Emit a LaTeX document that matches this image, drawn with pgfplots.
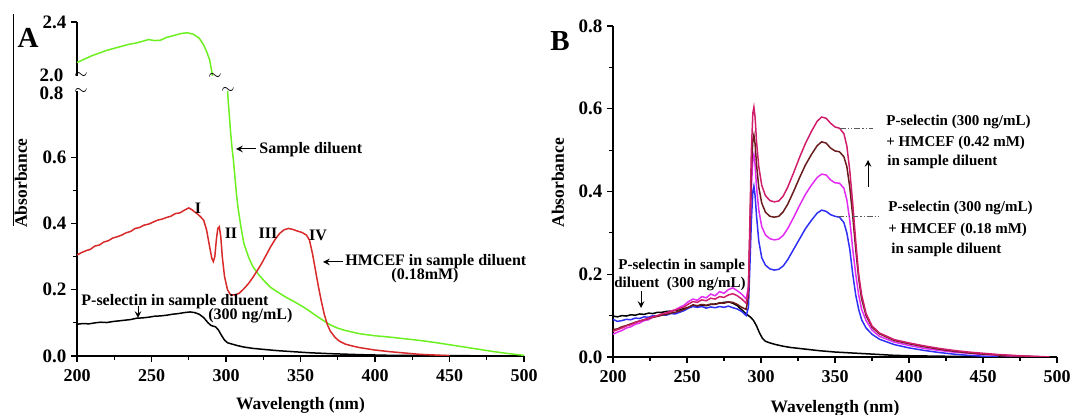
\documentclass[border=0pt]{standalone}
\usepackage{fontspec}
\setmainfont{Liberation Serif}
\usepackage{pgfplots}
\pgfplotsset{compat=1.18}
\definecolor{SpGreen}{HTML}{6CF022}
\definecolor{SpRed}{HTML}{D82A2A}
\definecolor{SpBlue}{HTML}{2F2FF5}
\definecolor{SpMag}{HTML}{E22CF2}
\definecolor{SpBrown}{HTML}{6A1C1C}
\definecolor{SpCrim}{HTML}{D11E6C}
\pgfplotsset{
  spec/.style={
    scale only axis,
    axis x line*=bottom, axis y line*=left,
    axis line style={-, line width=0.7pt},
    tick align=outside,
    major tick length=3pt, minor tick length=1.8pt,
    tick style={black, line width=0.6pt},
    xmin=200, xmax=500,
    xtick={200,250,...,500}, minor x tick num=1,
    xticklabel style={font=\fontsize{9}{10}\selectfont\bfseries},
    yticklabel style={font=\fontsize{9.5}{10}\selectfont\bfseries, inner sep=0.6pt, xshift=-1.5pt,
      /pgf/number format/fixed, /pgf/number format/fixed zerofill, /pgf/number format/precision=1},
    /pgf/number format/assume math mode=true,
    label style={font=\fontsize{8.75}{10}\selectfont\bfseries},
    every axis plot/.append style={line width=0.75pt, no marks},
  },
}
\tikzset{
  lbl/.style={font=\fontsize{8}{9.5}\selectfont\bfseries, inner sep=0pt},
  lblb/.style={font=\fontsize{7.5}{9}\selectfont\bfseries, inner sep=0pt},
}
\begin{document}
\begin{tikzpicture}
\useasboundingbox (0,0) rectangle (535.5pt,207.5pt);

% ---- panel A, upper part of the broken axis
\begin{axis}[spec,
  at={(38.5pt,169.5pt)}, anchor=south west,
  width=223.5pt, height=27pt,
  axis x line=none,
  ymin=2.0, ymax=2.4,
  ytick={2.4}, extra y ticks={2.0},
  extra y tick style={major tick length=0pt, yticklabel style={xshift=-4.5pt, yshift=0.5pt}},
  minor y tick num=3,
]
\addplot[SpGreen] coordinates {(200,2.10)(205,2.125)(210,2.15)(215,2.17)(220,2.19)(225,2.205)(230,2.22)(235,2.235)(240,2.245)(245,2.26)(248,2.27)(252,2.262)(256,2.265)(260,2.285)(265,2.30)(270,2.315)(274,2.32)(278,2.31)(282,2.28)(285,2.23)(287,2.18)(289,2.12)(291,2.0)};
\end{axis}

% ---- panel A, lower part
\begin{axis}[spec,
  at={(38.5pt,29.5pt)}, anchor=south west,
  width=223.5pt, height=132.5pt,
  ymin=0, ymax=0.8,
  ytick={0,0.2,0.4,0.6}, extra y ticks={0.8},
  extra y tick style={major tick length=0pt, yticklabel style={xshift=-4.5pt, yshift=-1pt}},
  minor y tick num=1,
  xlabel={Wavelength (nm)},
  xlabel style={at={(axis description cs:0.5,0)}, anchor=center, yshift=-24.5pt},
  ylabel={Absorbance},
  ylabel style={at={(axis description cs:0,0.653)}, anchor=center, yshift=28pt},
]
\addplot[black] coordinates {(200,0.096)(204,0.098)(208,0.097)(212,0.1)(216,0.102)(220,0.101)(224,0.104)(228,0.106)(232,0.108)(236,0.11)(240,0.114)(244,0.115)(248,0.117)(252,0.12)(256,0.121)(260,0.123)(264,0.126)(268,0.128)(272,0.131)(276,0.133)(279,0.131)(282,0.126)(285,0.116)(288,0.1)(290,0.092)(293,0.088)(295,0.078)(297,0.062)(299,0.048)(301,0.04)(304,0.036)(308,0.031)(312,0.027)(318,0.023)(325,0.02)(335,0.016)(345,0.013)(355,0.01)(370,0.007)(390,0.004)(410,0.002)(450,0.001)(500,0)};
\addplot[SpGreen] coordinates {(301,0.80)(302,0.74)(303,0.68)(304,0.63)(305,0.59)(306,0.54)(307,0.49)(308,0.45)(310,0.39)(312,0.34)(315,0.30)(318,0.27)(322,0.245)(326,0.225)(330,0.207)(335,0.192)(340,0.178)(345,0.166)(350,0.153)(355,0.139)(360,0.123)(365,0.108)(370,0.094)(375,0.084)(380,0.077)(390,0.067)(400,0.061)(410,0.057)(420,0.052)(430,0.047)(440,0.041)(450,0.034)(460,0.027)(470,0.02)(480,0.013)(490,0.007)(500,0.002)};
\addplot[SpRed] coordinates {(200,0.305)(203,0.312)(206,0.318)(209,0.322)(212,0.332)(215,0.335)(218,0.344)(221,0.348)(224,0.356)(227,0.36)(230,0.365)(233,0.372)(236,0.376)(239,0.385)(242,0.388)(245,0.395)(248,0.398)(251,0.404)(254,0.41)(257,0.413)(260,0.418)(263,0.422)(266,0.43)(269,0.432)(272,0.44)(275,0.447)(277,0.442)(279,0.435)(281,0.428)(283,0.42)(285,0.41)(287,0.38)(289,0.33)(290.5,0.295)(291.5,0.285)(292.5,0.30)(293.5,0.35)(294.5,0.385)(295.5,0.39)(296.5,0.36)(297.5,0.30)(299,0.24)(301,0.20)(303,0.185)(306,0.184)(309,0.19)(312,0.203)(315,0.218)(318,0.237)(321,0.258)(324,0.28)(327,0.305)(330,0.33)(333,0.352)(336,0.37)(339,0.381)(342,0.385)(345,0.382)(348,0.377)(351,0.373)(354,0.365)(356,0.35)(358,0.31)(360,0.26)(362,0.21)(364,0.165)(366,0.125)(368,0.095)(370,0.075)(373,0.057)(376,0.045)(380,0.036)(385,0.03)(390,0.025)(400,0.018)(410,0.013)(420,0.009)(430,0.005)(440,0.003)(450,0.001)};
\end{axis}

% ---- panel B
\begin{axis}[spec,
  at={(306.5pt,29pt)}, anchor=south west,
  width=222pt, height=165.5pt,
  ymin=0, ymax=0.8,
  ytick={0,0.2,...,0.8}, minor y tick num=1,
  xlabel={Wavelength (nm)},
  xlabel style={at={(axis description cs:0.5,0)}, anchor=center, yshift=-25.5pt},
  ylabel={Absorbance},
  ylabel style={at={(axis description cs:0,0.526)}, anchor=center, yshift=27.5pt},
]
\addplot[black] coordinates {(200,0.099)(203,0.097)(206,0.1)(209,0.099)(212,0.102)(215,0.101)(218,0.104)(221,0.103)(224,0.106)(227,0.105)(230,0.108)(233,0.108)(236,0.11)(239,0.111)(242,0.113)(245,0.114)(248,0.117)(251,0.12)(254,0.124)(257,0.123)(260,0.125)(263,0.124)(266,0.127)(269,0.128)(272,0.13)(275,0.132)(278,0.133)(281,0.13)(284,0.124)(287,0.114)(290,0.104)(293,0.096)(295,0.088)(297,0.075)(299,0.058)(301,0.045)(303,0.038)(306,0.034)(310,0.03)(315,0.026)(320,0.023)(330,0.019)(340,0.015)(350,0.012)(360,0.01)(370,0.008)(380,0.006)(390,0.004)(400,0.003)(420,0.002)(440,0.001)(460,0)};
\addplot[SpBlue] coordinates {(200,0.091)(203,0.086)(206,0.088)(209,0.091)(212,0.09)(215,0.094)(218,0.093)(221,0.097)(224,0.096)(227,0.1)(230,0.099)(233,0.102)(236,0.101)(239,0.105)(242,0.104)(245,0.108)(248,0.112)(251,0.118)(254,0.122)(257,0.12)(260,0.122)(263,0.118)(266,0.121)(269,0.119)(272,0.122)(275,0.12)(278,0.123)(281,0.119)(284,0.116)(287,0.11)(290,0.1)(291.5,0.12)(292.5,0.22)(293.5,0.33)(294.5,0.40)(295.2,0.413)(296,0.39)(297,0.34)(298.5,0.28)(300.5,0.24)(303,0.222)(306,0.213)(309,0.21)(312,0.212)(315,0.22)(318,0.235)(322,0.26)(326,0.285)(330,0.31)(334,0.33)(338,0.348)(341,0.355)(344,0.352)(347,0.344)(350,0.34)(353,0.338)(356,0.325)(358,0.3)(360,0.26)(362,0.2)(364,0.15)(366,0.115)(368,0.09)(371,0.07)(375,0.055)(380,0.043)(390,0.03)(400,0.022)(410,0.016)(420,0.011)(430,0.007)(440,0.004)(450,0.002)(460,0)};
\addplot[SpMag] coordinates {(200,0.055)(203,0.06)(206,0.064)(209,0.07)(212,0.073)(215,0.079)(218,0.082)(221,0.088)(224,0.09)(227,0.097)(230,0.099)(233,0.104)(236,0.106)(239,0.111)(242,0.114)(245,0.12)(248,0.125)(251,0.134)(254,0.14)(257,0.137)(260,0.146)(263,0.143)(266,0.152)(269,0.148)(272,0.158)(275,0.154)(278,0.163)(281,0.167)(284,0.16)(287,0.152)(290,0.14)(291.5,0.17)(292.5,0.29)(293.5,0.41)(294.5,0.48)(295.2,0.49)(296,0.465)(297,0.41)(298.5,0.355)(300.5,0.315)(303,0.295)(306,0.286)(309,0.283)(312,0.285)(315,0.294)(318,0.31)(322,0.337)(326,0.366)(330,0.393)(334,0.415)(338,0.434)(341,0.442)(344,0.44)(347,0.428)(350,0.421)(353,0.42)(356,0.408)(358,0.38)(360,0.33)(362,0.26)(364,0.2)(366,0.15)(368,0.115)(371,0.088)(375,0.065)(380,0.05)(390,0.036)(400,0.028)(410,0.021)(420,0.016)(430,0.012)(440,0.009)(450,0.006)(460,0.004)(470,0.002)(480,0.001)(490,0)};
\addplot[SpBrown] coordinates {(200,0.066)(203,0.068)(206,0.073)(209,0.076)(212,0.08)(215,0.084)(218,0.087)(221,0.09)(224,0.093)(227,0.096)(230,0.098)(233,0.101)(236,0.103)(239,0.106)(242,0.108)(245,0.111)(248,0.115)(251,0.12)(254,0.126)(257,0.124)(260,0.127)(263,0.125)(266,0.128)(269,0.127)(272,0.131)(275,0.13)(278,0.133)(281,0.132)(284,0.127)(287,0.12)(290,0.115)(291.5,0.15)(292.5,0.30)(293.5,0.45)(294.5,0.525)(295.2,0.537)(296,0.515)(297,0.465)(298.5,0.41)(300.5,0.372)(303,0.35)(306,0.34)(309,0.338)(312,0.34)(315,0.351)(318,0.369)(322,0.4)(326,0.433)(330,0.464)(334,0.489)(338,0.511)(341,0.52)(344,0.517)(347,0.505)(350,0.498)(353,0.496)(356,0.484)(358,0.46)(360,0.41)(362,0.34)(364,0.26)(366,0.19)(368,0.14)(371,0.1)(375,0.072)(380,0.056)(390,0.04)(400,0.032)(410,0.025)(420,0.019)(430,0.014)(440,0.01)(450,0.007)(460,0.005)(470,0.003)(480,0.002)(490,0)};
\addplot[SpCrim] coordinates {(200,0.062)(203,0.066)(206,0.07)(209,0.075)(212,0.078)(215,0.083)(218,0.087)(221,0.09)(224,0.094)(227,0.097)(230,0.1)(233,0.104)(236,0.106)(239,0.11)(242,0.113)(245,0.117)(248,0.121)(251,0.128)(254,0.134)(257,0.132)(260,0.138)(263,0.136)(266,0.142)(269,0.14)(272,0.146)(275,0.144)(278,0.15)(281,0.153)(284,0.148)(287,0.14)(290,0.13)(291.5,0.16)(292.5,0.33)(293.5,0.50)(294.5,0.59)(295.2,0.604)(296,0.58)(297,0.52)(298.5,0.46)(300.5,0.415)(303,0.39)(306,0.378)(309,0.375)(312,0.377)(315,0.389)(318,0.41)(322,0.445)(326,0.482)(330,0.516)(334,0.545)(338,0.57)(341,0.58)(344,0.577)(347,0.565)(350,0.556)(353,0.553)(356,0.54)(358,0.51)(360,0.45)(362,0.37)(364,0.28)(366,0.2)(368,0.15)(371,0.105)(375,0.075)(380,0.058)(390,0.042)(400,0.034)(410,0.027)(420,0.021)(430,0.016)(440,0.012)(450,0.009)(460,0.006)(470,0.004)(480,0.002)(490,0.001)(495,0)};
\end{axis}

% ---- annotations, in pixel units of the reference (y downwards)
\begin{scope}[x=0.5pt, y=-0.5pt, shift={(0pt,207.5pt)}]
  \draw[line width=0.5pt] (13,14) -- (13,226);
  \node[font=\fontsize{14.5}{16}\selectfont\bfseries] at (28,38) {A};
  \node[font=\fontsize{14.5}{16}\selectfont\bfseries] at (560,41) {B};
  % axis break marks
  \foreach \p in {(81,75),(81,91),(215,76),(228,90)}
    \node[font=\fontsize{8.5}{9}\selectfont, inner sep=0pt] at \p {$\sim$};
  % panel A labels
  \draw[-stealth, line width=0.5pt] (256,149) -- (236,149);
  \node[lbl, anchor=west] at (259,150) {Sample diluent};
  \node[lbl] at (198,208) {I};
  \node[lbl] at (231,233) {II};
  \node[lbl] at (268,233) {III};
  \node[lbl] at (318,235) {IV};
  \draw[-stealth, line width=0.5pt] (343,262) -- (323,262);
  \node[lbl, anchor=west] at (345,262) {HMCEF in sample diluent};
  \node[lbl] at (425,276) {(0.18mM)};
  \node[lbl, anchor=west] at (81,302) {P-selectin in sample diluent};
  \node[lbl, anchor=west] at (208,316) {(300 ng/mL)};
  \draw[-stealth, line width=0.5pt] (138,306) -- (138,318);
  % panel B labels
  \draw[gray!70!black, line width=0.4pt, dash pattern=on 3pt off 1pt on 0.6pt off 1pt on 0.6pt off 1pt] (840,128) -- (873,128);
  \node[lblb, anchor=west] at (886,122) {P-selectin (300 ng/mL)};
  \node[lblb, anchor=west] at (886,143) {+ HMCEF (0.42 mM)};
  \node[lblb, anchor=west] at (887,162) {in sample diluent};
  \draw[-stealth, line width=0.5pt] (868,187) -- (868,160);
  \draw[gray!70!black, line width=0.4pt, dash pattern=on 3pt off 1pt on 0.6pt off 1pt on 0.6pt off 1pt] (838,216) -- (880,216);
  \node[lblb, anchor=west] at (888,208) {P-selectin (300 ng/mL)};
  \node[lblb, anchor=west] at (888,230) {+ HMCEF (0.18 mM)};
  \node[lblb, anchor=west] at (891,250) {in sample diluent};
  \node[lblb, anchor=west] at (618,266) {P-selectin in sample};
  \node[lblb, anchor=west] at (614,284) {diluent\ \ (300 ng/mL)};
  \draw[-stealth, line width=0.5pt] (641,291) -- (641,308);
\end{scope}
\end{tikzpicture}
\end{document}
